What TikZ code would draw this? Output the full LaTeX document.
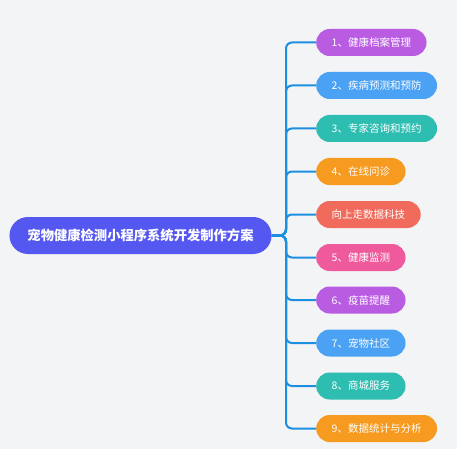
\documentclass[tikz,border=0pt]{standalone}
\usepackage{fontspec}
\newfontfamily\cjk{Noto Sans CJK SC}
\definecolor{bg}{HTML}{F3F4F6}
\definecolor{rootc}{HTML}{5558F0}
\definecolor{linec}{HTML}{1D8FE1}
\definecolor{cpurple}{HTML}{B95CE2}
\definecolor{cblue}{HTML}{4BA2F4}
\definecolor{cteal}{HTML}{2EBDB1}
\definecolor{corange}{HTML}{F69B1F}
\definecolor{ccoral}{HTML}{F06B5C}
\definecolor{cpink}{HTML}{EE5A9B}
\tikzset{
  rootbox/.style={fill=rootc, text=white, rounded corners=18.5pt, minimum height=37pt, inner xsep=18pt, font=\cjk\bfseries\fontsize{13.3}{15}\selectfont},
  leafbox/.style={fill=#1, text=white, rounded corners=13.5pt, minimum height=27pt, inner xsep=15.5pt, anchor=west, font=\cjk\fontsize{10.5}{12}\selectfont},
  conn/.style={draw=linec, line width=2pt, rounded corners=6pt}
}
\begin{document}
\begin{tikzpicture}[x=1pt,y=-1pt]
\fill[bg] (0,0) rectangle (457,449);
\useasboundingbox (0,0) rectangle (457,449);
\node[rootbox] (root) at (140.5,235.5) {宠物健康检测小程序系统开发制作方案};
\coordinate (trunk) at (286,235.5);
\node[leafbox=cpurple] (n1) at (316,42.5) {1、健康档案管理};
\node[leafbox=cblue] (n2) at (316,85.5) {2、疾病预测和预防};
\node[leafbox=cteal] (n3) at (316,128.5) {3、专家咨询和预约};
\node[leafbox=corange] (n4) at (316,171.5) {4、在线问诊};
\node[leafbox=ccoral] (n5) at (316,214.5) {向上走数据科技};
\node[leafbox=cpink] (n6) at (316,257.5) {5、健康监测};
\node[leafbox=cpurple] (n7) at (316,300) {6、疫苗提醒};
\node[leafbox=cblue] (n8) at (316,343) {7、宠物社区};
\node[leafbox=cteal] (n9) at (316,386) {8、商城服务};
\node[leafbox=corange] (n10) at (316,428.5) {9、数据统计与分析};
\foreach \n in {n1,n2,n3,n4,n5,n6,n7,n8,n9,n10}{
  \draw[conn] (root.east) -- (trunk) |- (\n.west);
}
\end{tikzpicture}
\end{document}
